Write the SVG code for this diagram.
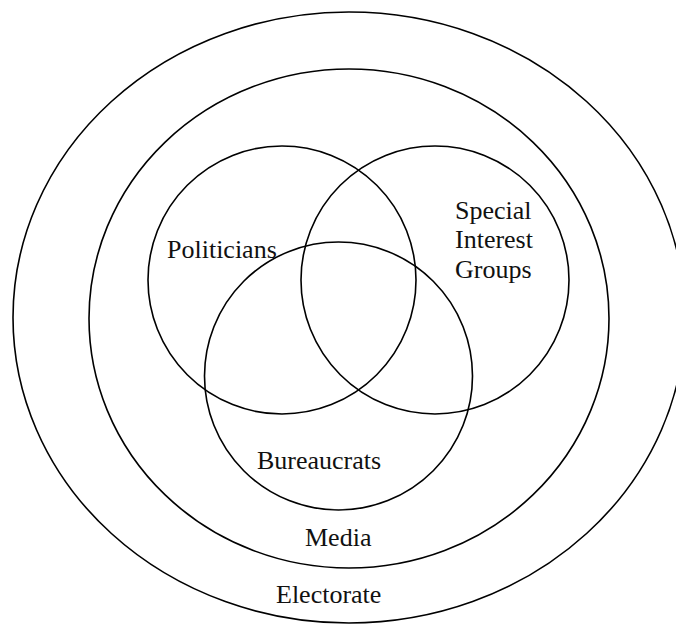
<svg xmlns="http://www.w3.org/2000/svg" width="676" height="624" viewBox="0 0 676 624">
  <style>
    .ring { fill: none; stroke: #000; stroke-width: 1.6; }
    .label { font-family: "Liberation Serif", "Times New Roman", serif; font-size: 26px; fill: #111; }
  </style>
  <rect width="676" height="624" fill="#fff"/>
  <g id="electorate">
    <ellipse class="ring" cx="349" cy="317.5" rx="336" ry="305.5"/>
    <text class="label" x="276" y="603">Electorate</text>
  </g>
  <g id="media">
    <ellipse class="ring" cx="349" cy="318.5" rx="260" ry="249.5"/>
    <text class="label" x="305" y="546">Media</text>
  </g>
  <g id="politicians">
    <circle class="ring" cx="282" cy="280" r="134"/>
    <text class="label" x="167" y="258">Politicians</text>
  </g>
  <g id="special-interest-groups">
    <circle class="ring" cx="435" cy="280" r="134"/>
    <text class="label" x="455" y="219">Special</text>
    <text class="label" x="455" y="248">Interest</text>
    <text class="label" x="455" y="278">Groups</text>
  </g>
  <g id="bureaucrats">
    <circle class="ring" cx="338.5" cy="376" r="134"/>
    <text class="label" x="257" y="469">Bureaucrats</text>
  </g>
  <g id="connectors"/>
</svg>
